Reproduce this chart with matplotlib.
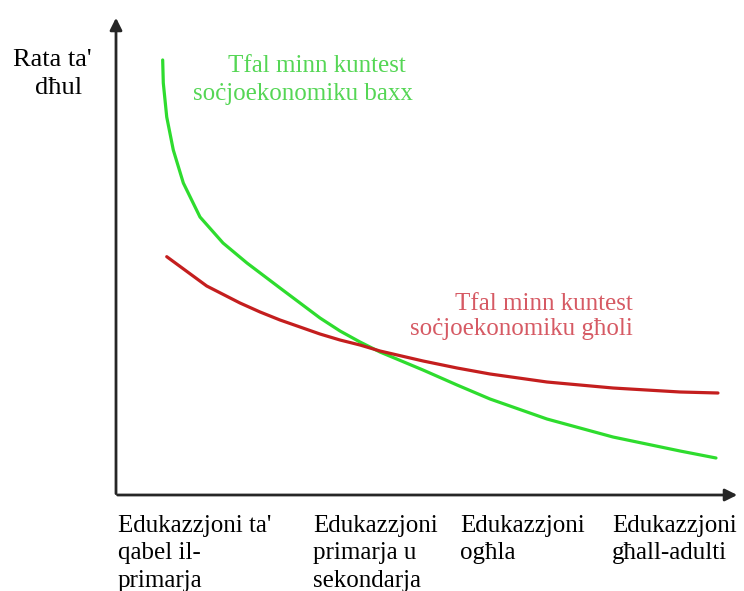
import numpy as np
import matplotlib.pyplot as plt

plt.rcParams['font.family'] = ['Liberation Serif', 'DejaVu Serif']

# curves (education level 0-10, rate 0-10)
green_x = [0.748, 0.758, 0.813, 0.918, 1.079, 1.346, 1.715, 2.099, 2.628, 2.949, 3.269,
           3.590, 3.910, 4.231, 4.920, 5.465, 5.994, 6.907, 7.965, 9.038, 9.615]
green_y = [9.063, 8.583, 7.875, 7.188, 6.500, 5.792, 5.250, 4.833, 4.313, 4.000, 3.688,
           3.417, 3.188, 2.979, 2.604, 2.292, 2.000, 1.583, 1.208, 0.917, 0.771]
red_x = [0.813, 1.454, 1.987, 2.308, 2.628, 2.949, 3.269, 3.590, 3.910, 4.231,
         4.920, 5.465, 5.994, 6.907, 7.965, 9.038, 9.647]
red_y = [4.965, 4.354, 4.000, 3.813, 3.646, 3.500, 3.354, 3.229, 3.125, 3.000,
         2.792, 2.646, 2.521, 2.354, 2.229, 2.146, 2.125]

y_label = ["Rata ta'", "dħul"]
green_label = ["Tfal minn kuntest", "soċjoekonomiku baxx"]
red_label = ["Tfal minn kuntest", "soċjoekonomiku għoli"]
categories = [["Edukazzjoni ta'", "qabel il-", "primarja"],
              ["Edukazzjoni", "primarja u", "sekondarja"],
              ["Edukazzjoni", "ogħla"],
              ["Edukazzjoni", "għall-adulti"]]
cat_x = [0.03, 3.16, 5.51, 7.95]

fig = plt.figure(figsize=(7.44, 5.91), dpi=100)
ax = fig.add_axes([116/744, 96/591, 624/744, 480/591])
ax.set_xlim(0, 10)
ax.set_ylim(0, 10)
ax.axis('off')

ax.plot(green_x, green_y, color='#2edc2e', lw=2.3, solid_capstyle='round', solid_joinstyle='round')
ax.plot(red_x, red_y, color='#c41e1e', lw=2.3, solid_capstyle='round', solid_joinstyle='round')

# axes with arrows
ax.annotate('', xy=(0, 1.0), xytext=(0, -0.003), xycoords='axes fraction',
            arrowprops=dict(arrowstyle='-|>', color='#262626', lw=2, mutation_scale=18))
ax.annotate('', xy=(1.0, 0), xytext=(-0.002, 0), xycoords='axes fraction',
            arrowprops=dict(arrowstyle='-|>', color='#262626', lw=2, mutation_scale=18))

ax.text(-0.385, 8.94, y_label[0], ha='right', va='baseline', fontsize=19)
ax.text(-0.545, 8.35, y_label[1], ha='right', va='baseline', fontsize=19)

ax.text(3.221, 8.81, green_label[0], ha='center', va='baseline', fontsize=18, color='#55d655')
ax.text(2.997, 8.23, green_label[1], ha='center', va='baseline', fontsize=18, color='#55d655')

ax.text(8.285, 3.86, red_label[0], ha='right', va='baseline', fontsize=18, color='#d65a64')
ax.text(8.285, 3.33, red_label[1], ha='right', va='baseline', fontsize=18, color='#d65a64')

for x, lines in zip(cat_x, categories):
    for i, line in enumerate(lines):
        ax.text(x, -0.77 - 0.57 * i, line, ha='left', va='baseline', fontsize=18)

fig.savefig('out.png', dpi=100)
